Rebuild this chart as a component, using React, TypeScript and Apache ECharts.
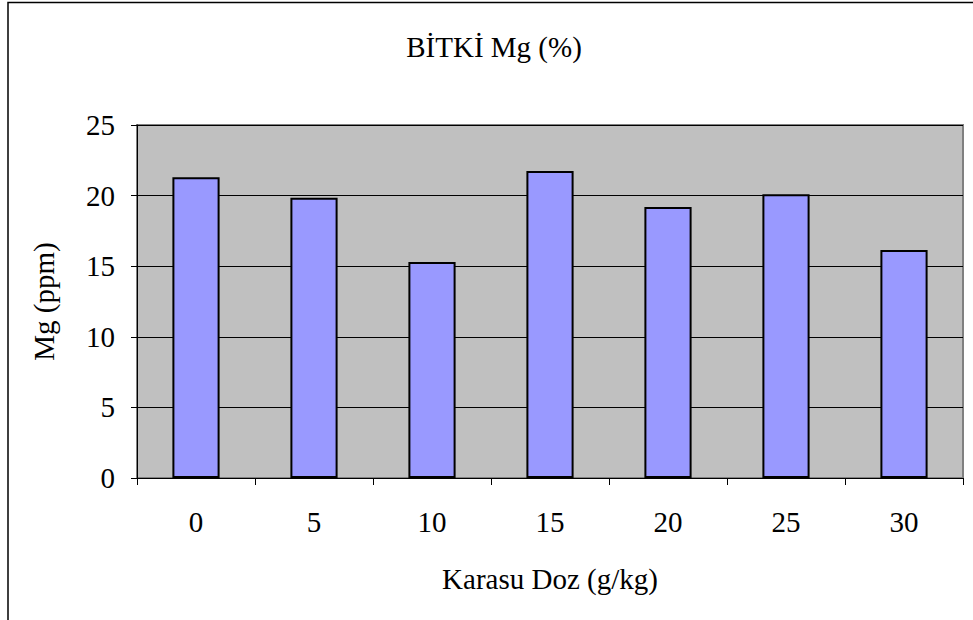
import React, { useEffect, useRef } from "react";
import * as echarts from "echarts";

const categories = ["0", "5", "10", "15", "20", "25", "30"];
const values = [21.3, 19.85, 15.3, 21.75, 19.2, 20.1, 16.15];
const titleText = "BİTKİ Mg (%)";
const xName = "Karasu Doz (g/kg)";
const yName = "Mg (ppm)";

const FONT = "'Liberation Serif', 'Times New Roman', serif";
const FS = 29;

export default function App() {
  const ref = useRef<HTMLDivElement>(null);
  useEffect(() => {
    const chart = echarts.init(ref.current!, undefined, { renderer: "svg" });
    chart.setOption({
      animation: false,
      backgroundColor: "#ffffff",
      graphic: [
        {
          type: "rect",
          shape: { x: 8, y: 2.5, width: 2000, height: 2000 },
          style: { fill: "none", stroke: "#000", lineWidth: 1.5 },
          silent: true,
        },
        {
          type: "text",
          x: 494,
          y: 47,
          style: {
            text: titleText,
            font: `${FS}px ${FONT}`,
            fill: "#000",
            textAlign: "center",
            textVerticalAlign: "middle",
          },
        },
      ],
      grid: {
        left: 137,
        right: 10,
        top: 125,
        bottom: 142,
        show: true,
        backgroundColor: "#c0c0c0",
        borderColor: "#808080",
        borderWidth: 2,
      },
      xAxis: {
        type: "category",
        data: categories,
        boundaryGap: true,
        name: xName,
        nameLocation: "middle",
        nameGap: 86,
        nameTextStyle: { fontFamily: FONT, fontSize: FS, color: "#000" },
        axisLine: { show: true, lineStyle: { color: "#000", width: 1 } },
        axisTick: { show: true, length: 7, interval: 0, alignWithLabel: false, lineStyle: { color: "#000" } },
        axisLabel: { fontFamily: FONT, fontSize: FS, color: "#000", margin: 29, interval: 0 },
        splitLine: { show: false },
      },
      yAxis: {
        type: "value",
        min: 0,
        max: 25,
        interval: 5,
        name: yName,
        nameLocation: "middle",
        nameGap: 79,
        nameTextStyle: { fontFamily: FONT, fontSize: FS, color: "#000" },
        axisLine: { show: true, lineStyle: { color: "#000", width: 1 } },
        axisTick: { show: true, length: 6, lineStyle: { color: "#000" } },
        axisLabel: { fontFamily: FONT, fontSize: FS, color: "#000", margin: 22 },
        splitLine: { show: true, lineStyle: { color: "#000", width: 1 } },
      },
      series: [
        {
          type: "bar",
          data: values,
          barWidth: "40%",
          itemStyle: { color: "#9999ff", borderColor: "#000", borderWidth: 2 },
        },
      ],
    });
    return () => chart.dispose();
  }, []);
  return (
    <div
      ref={ref}
      style={{ position: "absolute", left: 0, top: 0, width: 973, height: 620 }}
    />
  );
}
